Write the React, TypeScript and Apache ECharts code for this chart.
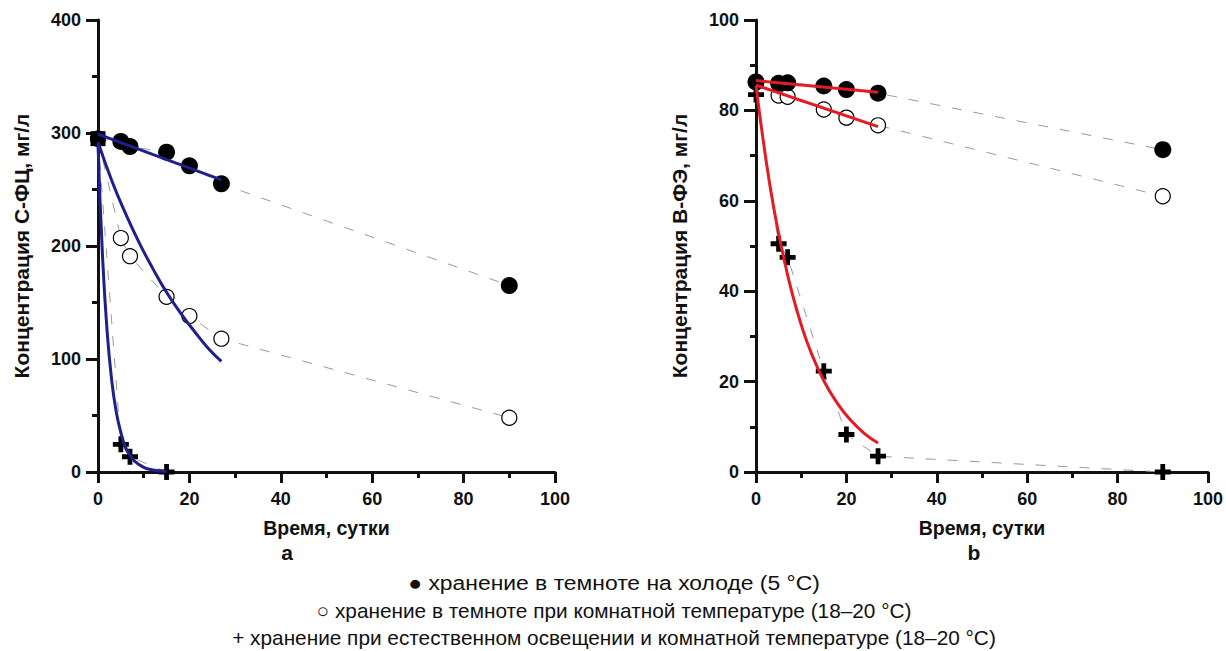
import React, { useEffect, useRef } from "react";
import * as echarts from "echarts";

// ---- data ----
const days = [0, 5, 7, 15, 20, 27, 90];
const cfcCold = [295, 292.5, 288, 283, 271, 255, 165];
const cfcDark = [295, 207, 191, 155, 138, 118, 48];
const cfcLightDays = [0, 5, 7, 15];
const cfcLight = [295, 24.5, 13.5, 0];

const bpeCold = [86.3, 86, 86.1, 85.4, 84.6, 83.8, 71.3];
const bpeDark = [86.3, 83.3, 83, 80.2, 78.4, 76.7, 61];
const bpeLight = [83.5, 50.5, 47.5, 22.3, 8.3, 3.5, 0];

// fitted curves
const linFitDays = [0, 27];
const cfcColdFit = [299, 258.5];
const cfcDarkFitDays = [0, 3, 6, 9, 12, 15, 18, 21, 24, 27];
const cfcDarkFit = [292, 258, 229, 203, 180, 159, 141, 125, 110, 98];
const cfcLightFitDays = [0, 1, 2, 3, 4, 5, 6, 7, 8, 10, 12, 15];
const cfcLightFit = [290, 190, 124, 81, 53, 35, 22, 15, 9.6, 4.1, 1.8, 0.5];

const bpeColdFit = [86.6, 84];
const bpeDarkFit = [85.6, 76.4];
const bpeLightFitDays = [0, 2, 4, 6, 8, 10, 12, 15, 18, 21, 24, 27];
const bpeLightFit = [85.5, 70.5, 58, 48, 39.5, 32.6, 26.9, 20.2, 15.2, 11.4, 8.5, 6.4];

const xTitle = "Время, сутки";
const yTitleA = "Концентрация С-ФЦ, мг/л";
const yTitleB = "Концентрация В-ФЭ, мг/л";
const panelLabels = ["a", "b"];
const legendLines = [
  "● хранение в темноте на холоде (5 °C)",
  "○ хранение в темноте при комнатной температуре (18–20 °C)",
  "+ хранение при естественном освещении и комнатной температуре (18–20 °C)",
];
const legendStretch = [1.1, 1, 1];

const FONT = "'Liberation Sans', Arial, Helvetica, sans-serif";
const PLUS = "path://M3.5,0H6.5V3.5H10V6.5H6.5V10H3.5V6.5H0V3.5H3.5Z";
const BLUE = "#1f1f8e";
const RED = "#e41b22";
const GRAY = "#9a9a9a";

const zip = (xs: number[], ys: number[]) => xs.map((x, i) => [x, ys[i]]);

function dataSeries(idx: number, xs: number[], ys: number[], kind: string, firstRect = false) {
  const base: any = {
    type: "line",
    xAxisIndex: idx,
    yAxisIndex: idx,
    lineStyle: { color: GRAY, width: 1, type: [10, 12] },
    showSymbol: true,
    z: 2,
  };
  const pts: any[] = zip(xs, ys);
  if (kind === "filled") {
    base.symbol = "circle";
    base.symbolSize = 17;
    base.itemStyle = { color: "#000", borderWidth: 0 };
    base.z = 4;
    if (firstRect) {
      pts[0] = { value: pts[0], symbol: "rect", symbolSize: 15 };
    }
  } else if (kind === "open") {
    base.symbol = "circle";
    base.symbolSize = 15;
    base.itemStyle = { color: "#fff", borderColor: "#000", borderWidth: 1.2 };
    base.z = 3;
  } else {
    base.symbol = PLUS;
    base.symbolSize = 16;
    base.itemStyle = { color: "#000", borderWidth: 0 };
    base.z = 3;
  }
  base.data = pts;
  return base;
}

function fitSeries(idx: number, xs: number[], ys: number[], color: string) {
  return {
    type: "line",
    xAxisIndex: idx,
    yAxisIndex: idx,
    data: zip(xs, ys),
    smooth: true,
    showSymbol: false,
    symbol: "none",
    lineStyle: { color, width: 3 },
    z: 5,
  };
}

const labelStyle = { fontFamily: FONT, fontWeight: "bold", fontSize: 18, color: "#111" };

function xAxis(idx: number) {
  return {
    type: "value",
    gridIndex: idx,
    min: 0,
    max: 100,
    interval: 20,
    name: xTitle,
    nameLocation: "middle",
    nameGap: 46,
    nameTextStyle: { ...labelStyle, fontSize: 19.5 },
    axisLine: { show: true, onZero: false, lineStyle: { color: "#111", width: 3 } },
    axisTick: { show: true, length: 11, lineStyle: { color: "#111", width: 3 } },
    minorTick: { show: true, splitNumber: 2, length: 6, lineStyle: { color: "#111", width: 3 } },
    axisLabel: { ...labelStyle, margin: 18 },
    splitLine: { show: false },
  };
}

function yAxis(idx: number, max: number, interval: number, name: string) {
  return {
    type: "value",
    gridIndex: idx,
    min: 0,
    max,
    interval,
    name,
    nameLocation: "middle",
    nameGap: 66,
    nameTextStyle: { ...labelStyle, fontSize: 21 },
    axisLine: { show: true, onZero: false, lineStyle: { color: "#111", width: 3 } },
    axisTick: { show: true, length: 12, lineStyle: { color: "#111", width: 3 } },
    minorTick: { show: true, splitNumber: 2, length: 6, lineStyle: { color: "#111", width: 3 } },
    axisLabel: { ...labelStyle, margin: 17 },
    splitLine: { show: false },
  };
}

export default function App() {
  const ref = useRef<HTMLDivElement>(null);
  useEffect(() => {
    if (!ref.current) return;
    const chart = echarts.init(ref.current, undefined, { renderer: "svg" });
    const option: any = {
      animation: false,
      backgroundColor: "#fff",
      grid: [
        { left: 98, top: 20, width: 457, height: 452 },
        { left: 756, top: 20, width: 453, height: 452 },
      ],
      xAxis: [xAxis(0), xAxis(1)],
      yAxis: [yAxis(0, 400, 100, yTitleA), yAxis(1, 100, 20, yTitleB)],
      series: [
        dataSeries(0, days, cfcDark, "open"),
        dataSeries(0, cfcLightDays, cfcLight, "plus"),
        dataSeries(0, days, cfcCold, "filled", true),
        fitSeries(0, linFitDays, cfcColdFit, BLUE),
        fitSeries(0, cfcDarkFitDays, cfcDarkFit, BLUE),
        fitSeries(0, cfcLightFitDays, cfcLightFit, BLUE),
        dataSeries(1, days, bpeDark, "open"),
        dataSeries(1, days, bpeLight, "plus"),
        dataSeries(1, days, bpeCold, "filled"),
        fitSeries(1, linFitDays, bpeColdFit, RED),
        fitSeries(1, linFitDays, bpeDarkFit, RED),
        fitSeries(1, bpeLightFitDays, bpeLightFit, RED),
      ],
      graphic: [
        ...panelLabels.map((t, i) => ({
          type: "text",
          x: i === 0 ? 287 : 974,
          y: 552,
          style: {
            text: t,
            font: `bold 21px ${FONT}`,
            fill: "#111",
            textAlign: "center",
            textVerticalAlign: "middle",
          },
        })),
        ...legendLines.map((t, i) => ({
          type: "text",
          x: 614,
          y: 583 + i * 27,
          scaleX: legendStretch[i],
          style: {
            text: t,
            font: `20.8px ${FONT}`,
            fill: "#111",
            textAlign: "center",
            textVerticalAlign: "middle",
          },
        })),
      ],
    };
    chart.setOption(option);
    return () => chart.dispose();
  }, []);
  return (
    <div
      ref={ref}
      style={{ position: "absolute", left: 0, top: 0, width: 1226, height: 651 }}
    />
  );
}
